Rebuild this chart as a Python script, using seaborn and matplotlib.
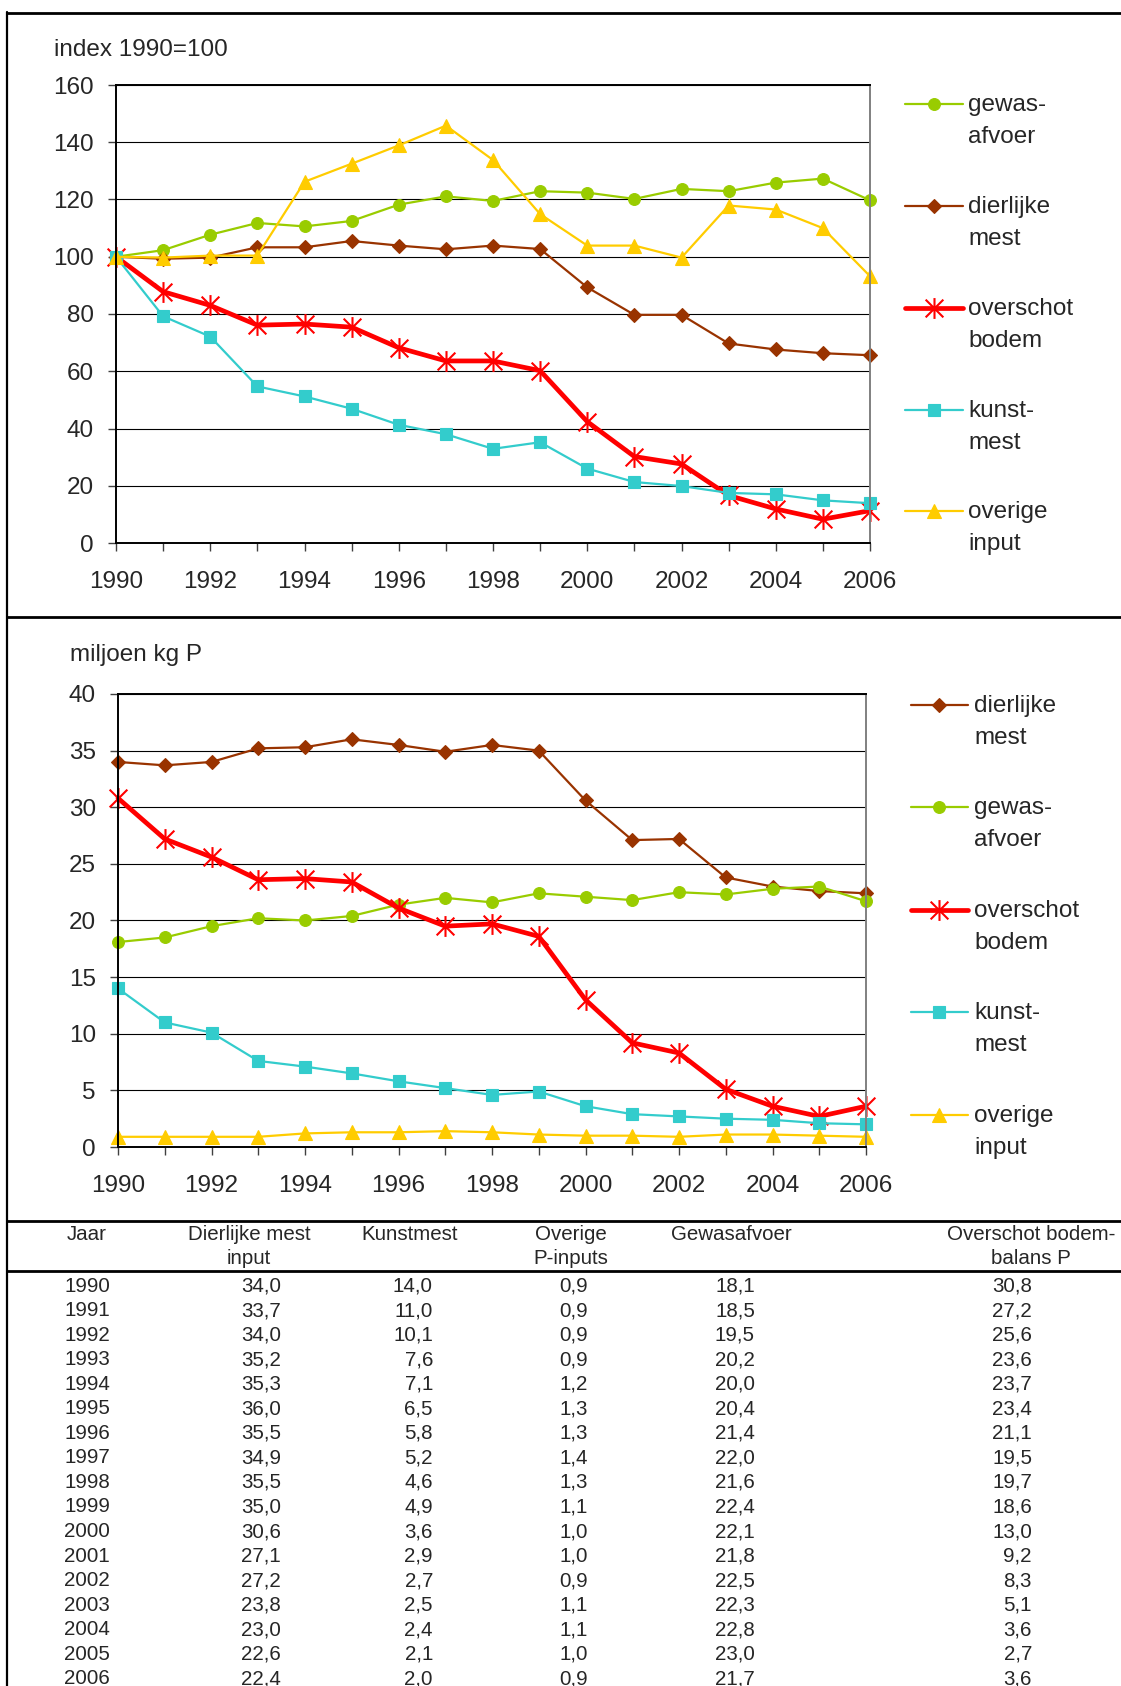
import matplotlib
matplotlib.use("Agg")
import matplotlib.pyplot as plt
from matplotlib.lines import Line2D
from matplotlib.path import Path
import seaborn as sns

# ---------------------------------------------------------------- data
years = list(range(1990, 2007))

# fosfaatbalans landbouw, index 1990=100
idx_gewasafvoer = [100, 102.3, 107.7, 111.8, 110.6, 112.5, 118.2, 121.1, 119.5,
                   122.9, 122.4, 120.2, 123.7, 122.9, 125.9, 127.3, 119.7]
idx_dierlijke_mest = [100, 99.3, 99.7, 103.3, 103.3, 105.5, 103.9, 102.6, 103.9,
                      102.7, 89.3, 79.7, 79.7, 69.7, 67.6, 66.3, 65.6]
idx_overschot_bodem = [100, 87.8, 83.0, 76.1, 76.5, 75.4, 68.2, 63.6, 63.6,
                       60.2, 42.4, 30.2, 27.6, 16.6, 11.9, 8.3, 11.3]
idx_kunstmest = [100, 79.2, 72.1, 54.7, 51.2, 46.9, 41.3, 38.0, 32.9,
                 35.2, 26.0, 21.3, 19.9, 17.5, 17.0, 14.9, 13.9]
idx_overige_input = [100, 99.7, 100.4, 100.4, 126.2, 132.5, 138.9, 145.8, 133.8,
                     114.9, 103.9, 103.9, 99.7, 117.9, 116.5, 110.0, 93.2]

# miljoen kg P
dierlijke_mest = [34.0, 33.7, 34.0, 35.2, 35.3, 36.0, 35.5, 34.9, 35.5,
                  35.0, 30.6, 27.1, 27.2, 23.8, 23.0, 22.6, 22.4]
kunstmest = [14.0, 11.0, 10.1, 7.6, 7.1, 6.5, 5.8, 5.2, 4.6,
             4.9, 3.6, 2.9, 2.7, 2.5, 2.4, 2.1, 2.0]
overige_input = [0.9, 0.9, 0.9, 0.9, 1.2, 1.3, 1.3, 1.4, 1.3,
                 1.1, 1.0, 1.0, 0.9, 1.1, 1.1, 1.0, 0.9]
gewasafvoer = [18.1, 18.5, 19.5, 20.2, 20.0, 20.4, 21.4, 22.0, 21.6,
               22.4, 22.1, 21.8, 22.5, 22.3, 22.8, 23.0, 21.7]
overschot_bodem = [30.8, 27.2, 25.6, 23.6, 23.7, 23.4, 21.1, 19.5, 19.7,
                   18.6, 13.0, 9.2, 8.3, 5.1, 3.6, 2.7, 3.6]

table_headers = [("Jaar", ""), ("Dierlijke mest", "input"), ("Kunstmest", ""),
                 ("Overige", "P-inputs"), ("Gewasafvoer", ""),
                 ("Overschot bodem-", "balans P")]

# ---------------------------------------------------------------- styles
sns.set_style("white")
plt.rcParams["font.family"] = ["Liberation Sans", "DejaVu Sans"]

W, H = 1121, 1686
fig = plt.figure(figsize=(W / 100, H / 100), dpi=100)


def fx(x):
    return x / W


def fy(y):
    return 1 - y / H


# Excel-style star: vertical stroke plus a diagonal cross
asterisk = Path([(0, -1), (0, 1), (-0.85, -0.85), (0.85, 0.85), (-0.85, 0.85), (0.85, -0.85)],
                [Path.MOVETO, Path.LINETO, Path.MOVETO, Path.LINETO, Path.MOVETO, Path.LINETO])

STYLE = {
    "gewas": dict(color="#99CC00", marker="o", markersize=8.5, linewidth=1.6,
                  markeredgewidth=0.8, markerfacecolor="#99CC00", markeredgecolor="#99CC00"),
    "dierlijke": dict(color="#993300", marker="D", markersize=7.5, linewidth=1.6,
                      markeredgewidth=0.8, markerfacecolor="#993300", markeredgecolor="#993300"),
    "overschot": dict(color="#FF0000", marker=asterisk, markersize=15, linewidth=3.4,
                      markeredgewidth=1.5, markerfacecolor="none", markeredgecolor="#FF0000"),
    "kunst": dict(color="#33CCCC", marker="s", markersize=8.5, linewidth=1.6,
                  markeredgewidth=0.8, markerfacecolor="#33CCCC", markeredgecolor="#33CCCC"),
    "overige": dict(color="#FFCC00", marker="^", markersize=9.5, linewidth=1.6,
                    markeredgewidth=0.8, markerfacecolor="#FFCC00", markeredgecolor="#FFCC00"),
}

LABELS = {
    "gewas": ("gewas-", "afvoer"),
    "dierlijke": ("dierlijke", "mest"),
    "overschot": ("overschot", "bodem"),
    "kunst": ("kunst-", "mest"),
    "overige": ("overige", "input"),
}

FS = 17.5


def style_axes(ax, ymax, ystep):
    ax.set_xlim(1990, 2006)
    ax.set_ylim(0, ymax)
    ax.set_xticks(years)
    ax.set_xticklabels([str(y) if y % 2 == 0 else "" for y in years])
    ax.set_yticks(range(0, ymax + 1, ystep))
    ax.grid(axis="y", color="black", linewidth=0.8)
    ax.grid(axis="x", visible=False)
    ax.set_axisbelow(True)
    for side in ("left", "bottom", "top"):
        ax.spines[side].set_color("black")
        ax.spines[side].set_linewidth(1.4)
    ax.spines["right"].set_color("#808080")
    ax.spines["right"].set_linewidth(1.4)
    ax.tick_params(axis="x", direction="out", length=6, width=1.0, color="#404040",
                   labelsize=FS, pad=14, bottom=True)
    ax.tick_params(axis="y", direction="out", length=6, width=1.0, color="#404040",
                   labelsize=FS, pad=10, left=True)
    ax.set_xlabel("")
    ax.set_ylabel("")


def draw_series(ax, series):
    for key, values in series:
        st = STYLE[key]
        sns.lineplot(x=years, y=values, ax=ax, legend=False, clip_on=False, **st)


def draw_legend(order, x0, x1, xtext, ys):
    for key, y in zip(order, ys):
        st = STYLE[key]
        fig.add_artist(Line2D([fx(x0), fx(x1)], [fy(y), fy(y)], transform=fig.transFigure,
                              color=st["color"], linewidth=st["linewidth"]))
        fig.add_artist(Line2D([fx((x0 + x1) / 2)], [fy(y)], transform=fig.transFigure,
                              linestyle="none", marker=st["marker"],
                              markersize=st["markersize"], markeredgewidth=st["markeredgewidth"],
                              markerfacecolor=st["markerfacecolor"],
                              markeredgecolor=st["markeredgecolor"]))
        l1, l2 = LABELS[key]
        fig.text(fx(xtext), fy(y + 1), l1, fontsize=FS, ha="left", va="center")
        fig.text(fx(xtext), fy(y + 33), l2, fontsize=FS, ha="left", va="center")


# ---------------------------------------------------------------- top chart: index
ax1 = fig.add_axes([fx(116), fy(543), (870 - 116) / W, (543 - 85) / H])
draw_series(ax1, [("gewas", idx_gewasafvoer), ("dierlijke", idx_dierlijke_mest),
                  ("overschot", idx_overschot_bodem), ("kunst", idx_kunstmest),
                  ("overige", idx_overige_input)])
style_axes(ax1, 160, 20)
fig.text(fx(54), fy(50), "index 1990=100", fontsize=FS, ha="left", va="center")
draw_legend(["gewas", "dierlijke", "overschot", "kunst", "overige"],
            905, 963, 968, [104, 206, 308, 410, 511])

# ---------------------------------------------------------------- bottom chart: miljoen kg P
ax2 = fig.add_axes([fx(118), fy(1147), (866 - 118) / W, (1147 - 694) / H])
draw_series(ax2, [("dierlijke", dierlijke_mest), ("gewas", gewasafvoer),
                  ("overschot", overschot_bodem), ("kunst", kunstmest),
                  ("overige", overige_input)])
style_axes(ax2, 40, 5)
fig.text(fx(70), fy(655), "miljoen kg P", fontsize=FS, ha="left", va="center")
draw_legend(["dierlijke", "gewas", "overschot", "kunst", "overige"],
            911, 968, 974, [705, 807, 910, 1012, 1115])

# ---------------------------------------------------------------- frame lines
def hline(y, lw=2.0):
    fig.add_artist(Line2D([fx(7), 1.0], [fy(y), fy(y)], transform=fig.transFigure,
                          color="black", linewidth=lw))


hline(13)
hline(617)
hline(1221)
hline(1271)
fig.add_artist(Line2D([fx(7), fx(7)], [fy(12), 0], transform=fig.transFigure,
                      color="black", linewidth=1.6))

# ---------------------------------------------------------------- table
TFS = 14.8
header_x = [87, 249, 410, 571, 731, 1031]
for (h1, h2), x in zip(table_headers, header_x):
    fig.text(fx(x), fy(1235), h1, fontsize=TFS, ha="center", va="center")
    if h2:
        fig.text(fx(x), fy(1258), h2, fontsize=TFS, ha="center", va="center")

value_right = [281, 433, 588, 755, 1032]
columns = [dierlijke_mest, kunstmest, overige_input, gewasafvoer, overschot_bodem]
for i, yr in enumerate(years):
    y = 1286 + i * 24.55
    fig.text(fx(110), fy(y), str(yr), fontsize=TFS, ha="right", va="center")
    for col, xr in zip(columns, value_right):
        txt = f"{col[i]:.1f}".replace(".", ",")
        fig.text(fx(xr), fy(y), txt, fontsize=TFS, ha="right", va="center")

fig.savefig("out.png", dpi=100, facecolor="white")
